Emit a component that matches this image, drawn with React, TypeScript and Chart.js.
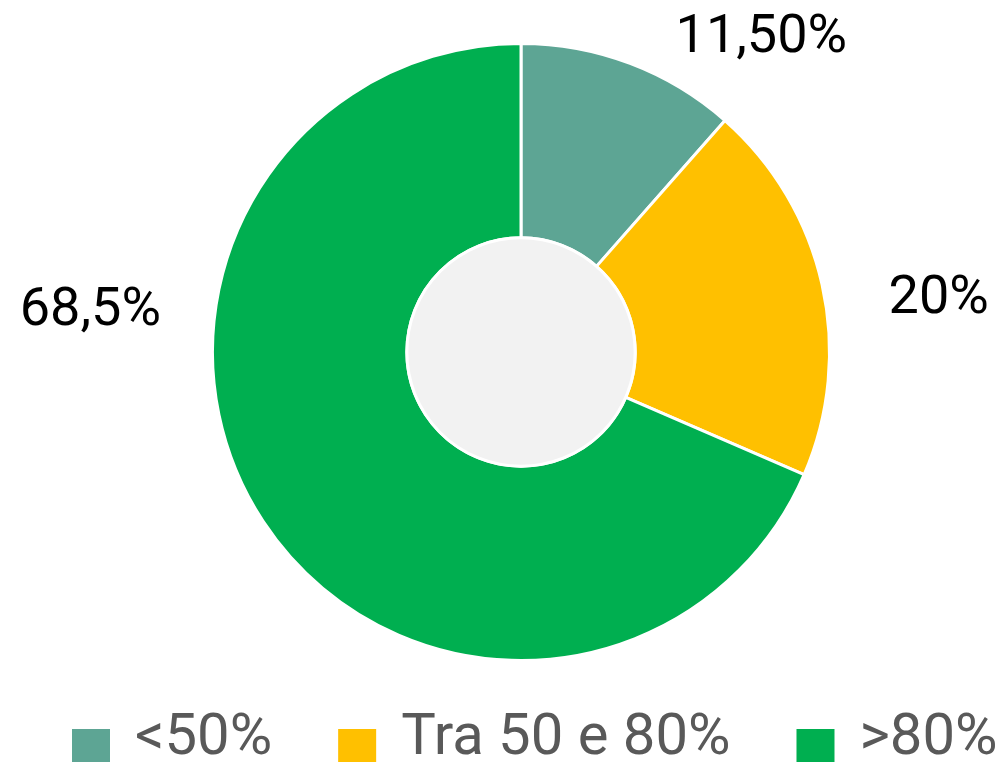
import React, { useEffect, useRef } from "react";
import { Chart, registerables } from "chart.js";

Chart.register(...registerables);

const categories = ["<50%", "Tra 50 e 80%", ">80%"];
const values = [11.5, 20, 68.5];
const valueLabels = ["11,50%", "20%", "68,5%"];
const colors = ["#5DA594", "#FFC000", "#00AF50"];

// label anchor offsets, in units of the outer radius, relative to the arc centre
const labelOffsetX = [0.779, 1.354, -1.396];
const labelOffsetY = [-0.972, -0.128, -0.089];

const FONT = "Roboto, 'Open Sans', sans-serif";

const centerPlugin = {
  id: "centerFill",
  afterDatasetsDraw(chart: any) {
    const arc = chart.getDatasetMeta(0).data[0] as any;
    if (!arc) return;
    const ctx = chart.ctx;
    ctx.save();
    ctx.beginPath();
    ctx.arc(arc.x, arc.y, arc.innerRadius, 0, Math.PI * 2);
    ctx.fillStyle = "#F2F2F2";
    ctx.fill();
    ctx.lineWidth = 3;
    ctx.strokeStyle = "#FFFFFF";
    ctx.stroke();
    ctx.restore();
  },
};

const labelsPlugin = {
  id: "valueLabels",
  afterDraw(chart: any) {
    const meta = chart.getDatasetMeta(0);
    const ctx = chart.ctx;
    ctx.save();
    ctx.font = `54px ${FONT}`;
    ctx.fillStyle = "#000000";
    ctx.textAlign = "center";
    ctx.textBaseline = "alphabetic";
    meta.data.forEach((arc: any, i: number) => {
      const x = arc.x + labelOffsetX[i] * arc.outerRadius;
      const y = arc.y + labelOffsetY[i] * arc.outerRadius;
      ctx.fillText(valueLabels[i], x, y);
    });
    ctx.restore();
  },
};

const legendPlugin = {
  id: "customLegend",
  afterDraw(chart: any) {
    const ctx = chart.ctx;
    const box = 38;
    const gap = 25;
    const itemSpacing = 66;
    const top = chart.chartArea.bottom + 67;
    const baseline = chart.chartArea.bottom + 92;
    let x = 72;
    ctx.save();
    ctx.font = `58px ${FONT}`;
    ctx.textAlign = "left";
    ctx.textBaseline = "alphabetic";
    categories.forEach((c, i) => {
      ctx.fillStyle = colors[i];
      ctx.fillRect(x, top, box, box);
      ctx.fillStyle = "#595959";
      ctx.fillText(c, x + box + gap, baseline);
      const w = ctx.measureText(c).width;
      x += box + gap + w + itemSpacing;
    });
    ctx.restore();
  },
};

export default function App() {
  const ref = useRef<HTMLCanvasElement | null>(null);
  useEffect(() => {
    if (!ref.current) return;
    const chart = new Chart(ref.current, {
      type: "doughnut",
      data: {
        labels: categories,
        datasets: [
          {
            data: values,
            backgroundColor: colors,
            borderColor: "#FFFFFF",
            borderWidth: 3,
          },
        ],
      },
      options: {
        responsive: false,
        animation: false,
        cutout: "37%",
        layout: { padding: { left: 211, right: 171, top: 42, bottom: 100 } },
        plugins: {
          legend: { display: false },
          tooltip: { enabled: false },
        },
      },
      plugins: [centerPlugin, labelsPlugin, legendPlugin],
    });
    return () => chart.destroy();
  }, []);
  return (
    <div style={{ position: "absolute", left: 0, top: 0, width: 1002, height: 762, background: "#FFFFFF" }}>
      <canvas ref={ref} width={1002} height={762} style={{ display: "block" }} />
    </div>
  );
}
